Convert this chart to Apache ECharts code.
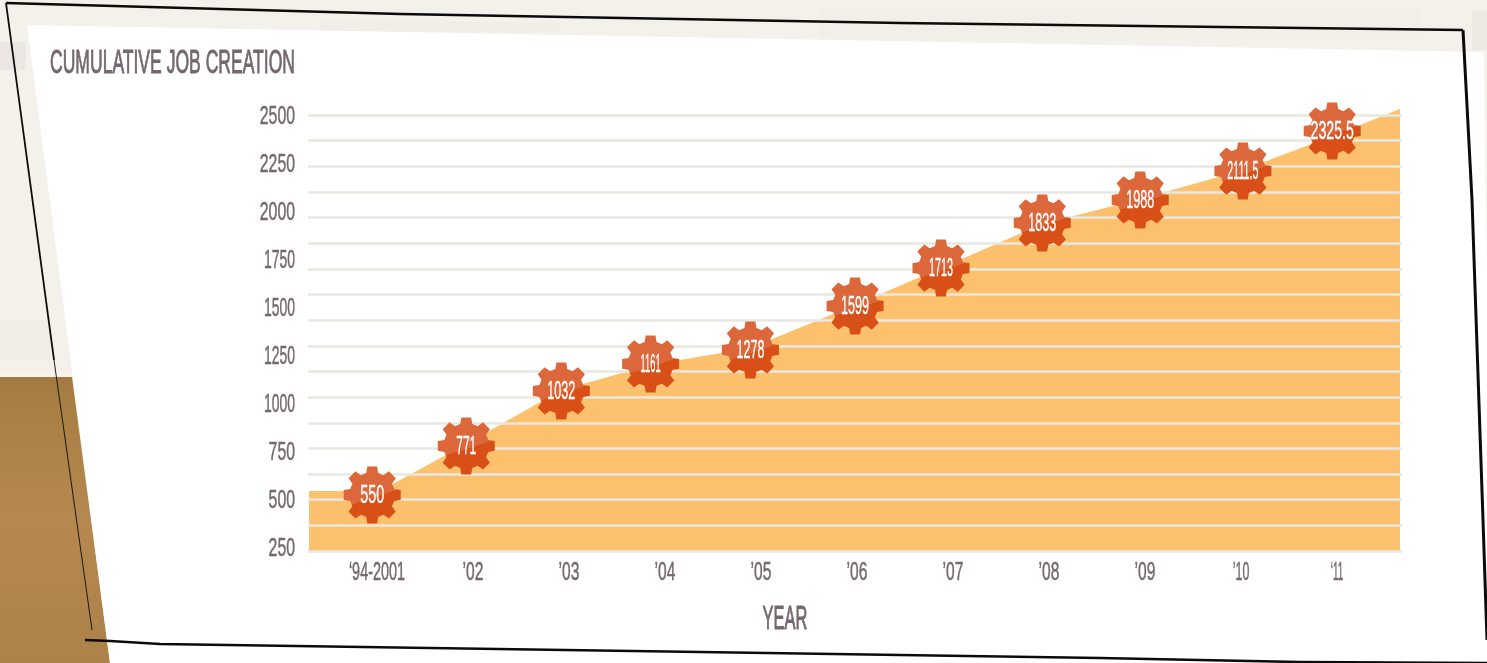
<!DOCTYPE html>
<html>
<head>
<meta charset="utf-8">
<style>html,body{margin:0;padding:0;background:#f4f0ea;overflow:hidden}#c{width:1487px;height:663px}</style>
<script src="https://cdn.jsdelivr.net/npm/echarts@6/dist/echarts.min.js"></script>
</head>
<body>
<div id="c"></div>
<script>
// Tick labels
const yearLabels = ['\u201894-2001','\u201902','\u201903','\u201904','\u201905','\u201906','\u201907','\u201908','\u201909','\u201910','\u201811'];
const yTickMin = 250, yTickMax = 2500, yTickStep = 250;
// Printed values on the gears
const jobValues = [550,771,1032,1161,1278,1599,1713,1833,1988,2111.5,2325.5];
// Where the gears sit (year slot, height on the gridline scale)
const gearSlot = [-0.05,0.93,1.92,2.85,3.89,4.98,5.875,6.93,7.95,9.02,9.95];
const gearHeight = [648,887,1155,1287,1355,1569,1754,1974,2086,2227,2422];
// Outline of the filled area
const areaSlot = [-0.708,0.03,0.93,1.92,2.85,3.89,4.98,5.875,6.93,7.95,9.02,9.95,10.656];
const areaHeight = [668,668,897,1160,1282,1365,1574,1754,1969,2091,2232,2398,2529];
// Gridline scale
const gridMin = 375, gridMax = 2500, gridStep = 125;

const FONT = '"Liberation Sans",sans-serif';
const INK = '#75676f';

// The reference face is much narrower than any installed font: work out a horizontal squeeze per string.
const measure = document.createElement('canvas').getContext('2d');
function squeezeFor(text, font, digit, one){
  measure.font = font+' "Liberation Sans"';
  let target = 0;
  for(const ch of String(text)){
    if(ch==='1') target += one;
    else if(ch==='.' ) target += digit*0.4;
    else if(ch==='-') target += digit*0.5;
    else if(ch==='\u2018'||ch==='\u2019') target += digit*0.36;
    else target += digit;
  }
  return target/measure.measureText(String(text)).width;
}

function gearPath(){
  const teeth = 8, R = 50, r = 38.5, tipHalf = 8.6, baseHalf = 10.5;
  let d = '';
  for(let i=0;i<teeth;i++){
    const a = i*Math.PI*2/teeth - Math.PI/2;
    const ux = Math.cos(a), uy = Math.sin(a), vx = -uy, vy = ux;
    const pts = [[r,-baseHalf],[R,-tipHalf],[R,tipHalf],[r,baseHalf]];
    pts.forEach(function(p){
      const x = 50+ux*p[0]+vx*p[1], y = 50+uy*p[0]+vy*p[1];
      d += (d?'L':'M')+x.toFixed(2)+' '+y.toFixed(2);
    });
  }
  return 'path://'+d+'Z';
}

const chart = echarts.init(document.getElementById('c'), null, {renderer:'canvas'});

const poly = (points, width) => ({type:'polyline', silent:true, z:1, shape:{points}, style:{stroke:'#0b0b0b', lineWidth:width, fill:null, lineJoin:'round'}});
const streak = (x,y,w,h,o) => ({type:'rect', silent:true, z:0, shape:{x,y,width:w,height:h}, style:{fill:'rgba(120,110,95,'+o+')'}});

chart.setOption({
  animation:false,
  backgroundColor:'#f4f0ea',
  title:{text:'CUMULATIVE JOB CREATION', left:45, top:42, textStyle:{fontFamily:FONT, fontSize:33, fontWeight:'normal', color:INK, textBorderColor:INK, textBorderWidth:0.9}},
  graphic:{elements:[
    streak(0,42,26,28,0.06), streak(0,320,50,40,0.02), streak(320,22,240,10,0.02), streak(820,8,600,30,0.012), streak(1472,10,15,40,0.05),
    {type:'polygon', silent:true, z:0, shape:{points:[[0,372],[71,372],[72,377],[0,377]]}, style:{fill:'#f8f5e8'}},
    {type:'polygon', silent:true, z:0, shape:{points:[[0,377],[72,377],[110,663],[0,663]]},
     style:{fill:new echarts.graphic.LinearGradient(0,0,0,1,[{offset:0,color:'#a27a42'},{offset:0.12,color:'#a98043'},{offset:0.5,color:'#b5884f'},{offset:1,color:'#ac8248'}])}},
    {type:'polygon', silent:true, z:0, shape:{points:[[27,25],[1484,52],[1492,663],[110,663]]}, style:{fill:'#ffffff'}},
    poly([[6,3],[400,14],[900,23],[1463,30]],2.6),
    poly([[1463,30],[1472,200],[1483,520],[1487,640]],3),
    poly([[6,3],[54,360]],1.8),
    poly([[54,360],[92,630]],0.9),
    poly([[85,640],[110,641],[160,644],[700,652],[1100,658],[1300,662],[1487,663]],2.6),
    {type:'text', silent:true, z:1, x:785, y:620, scaleX:squeezeFor('YEAR','33px',11.2,5),
     style:{text:'YEAR', fontFamily:FONT, fontSize:33, fill:INK, stroke:INK, lineWidth:0.9, align:'center', verticalAlign:'middle'}}
  ]},
  grid:[
    {left:308, width:1094, top:115, height:436},
    {left:329, width:1056, top:117, height:432}
  ],
  xAxis:[
    {gridIndex:0, type:'value', min:-0.71875, max:10.677, show:false, splitLine:{show:false}},
    {gridIndex:1, type:'category', data:yearLabels, boundaryGap:true, axisLine:{show:false}, axisTick:{show:false},
     axisLabel:{interval:0, margin:11, fontFamily:FONT, fontSize:26, color:INK, textBorderColor:INK, textBorderWidth:0.5}, splitLine:{show:false}}
  ],
  yAxis:[
    {gridIndex:0, type:'value', min:gridMin, max:gridMax, interval:gridStep, z:3,
     axisLine:{show:false}, axisTick:{show:false}, axisLabel:{show:false},
     splitLine:{show:true, lineStyle:{color:'#e8e8e0', width:2.6}}},
    {gridIndex:1, type:'value', min:yTickMin, max:yTickMax, interval:yTickStep, z:3,
     axisLine:{show:false}, axisTick:{show:false}, splitLine:{show:false},
     axisLabel:{margin:34, formatter:v=>String(v), fontFamily:FONT, fontSize:26, color:INK, textBorderColor:INK, textBorderWidth:0.5}}
  ],
  series:[
    {type:'line', name:'Cumulative job creation', xAxisIndex:0, yAxisIndex:0, z:2, clip:false, showSymbol:false, silent:true,
     data:areaSlot.map((s,i)=>[s,areaHeight[i]]),
     lineStyle:{width:0, color:'#fdc06c'}, areaStyle:{color:'#fdc06c', opacity:1}},
    {type:'scatter', xAxisIndex:0, yAxisIndex:0, z:5, clip:false, silent:true,
     data:gearSlot.map((s,i)=>[s,gearHeight[i]]),
     symbol:gearPath(), symbolSize:57,
     itemStyle:{opacity:1, color:new echarts.graphic.LinearGradient(0.345,0.025,0.655,0.975,[
       {offset:0,color:'#dc673b'},{offset:0.55,color:'#dc673b'},{offset:0.55,color:'#d94f18'},{offset:1,color:'#d94f18'}])}},
    {type:'custom', xAxisIndex:0, yAxisIndex:0, z:6, clip:false, silent:true,
     data:gearSlot.map((s,i)=>[s,gearHeight[i],jobValues[i]]),
     encode:{x:0,y:1},
     renderItem:function(params,api){
       const p = api.coord([api.value(0),api.value(1)]);
       const t = String(api.value(2));
       return {type:'text', x:p[0], y:p[1]+1, scaleX:squeezeFor(t,'26px',8,4),
         style:{text:t, fontFamily:FONT, fontSize:26, fill:'#fff', stroke:'#fff', lineWidth:0.4, align:'center', verticalAlign:'middle'}};
     }}
  ]
});

function squeeze(el){
  if(el.type!=='text' || el.scaleX!==1) return;
  const t = el.style.text, size = el.style.fontSize;
  if(size===26){ el.scaleX = squeezeFor(t,'26px',8.8,4.6); el.markRedraw(); }
  if(size===33){ measure.font='33px "Liberation Sans"'; el.scaleX = 245/measure.measureText(t).width; el.markRedraw(); }
}
chart.getZr().storage.getRoots().forEach(function(r){
  if(r.traverse) r.traverse(squeeze);
});
chart.getZr().refreshImmediately();
</script>
</body>
</html>
